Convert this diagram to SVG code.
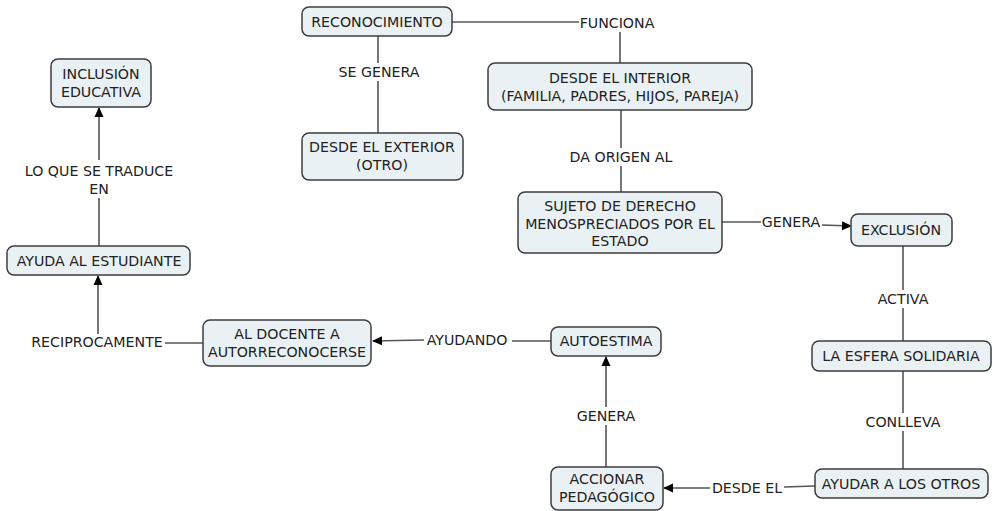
<svg xmlns="http://www.w3.org/2000/svg" width="993" height="511" viewBox="0 0 993 511">
<style>
.n rect{fill:#eaf1f4;stroke:#3d3d3d;stroke-width:1.5}
text{font-family:"DejaVu Sans",Verdana,sans-serif;font-size:14.2px;fill:#222;text-anchor:middle}
.c line{stroke:#555;stroke-width:1.6}
.a{marker-end:url(#ah)}
</style>
<defs>
<marker id="ah" markerWidth="10" markerHeight="10" refX="9" refY="5" orient="auto" markerUnits="userSpaceOnUse">
<path d="M0,0.5 L10,5 L0,9.5 Z" fill="#000"/>
</marker>
</defs>
<rect width="993" height="511" fill="#fff"/>
<g class="c">
<line x1="452" y1="22" x2="579" y2="22"/>
<line x1="620" y1="32" x2="620" y2="63"/>
<line x1="378" y1="36" x2="378" y2="63"/>
<line x1="378" y1="81" x2="378" y2="133"/>
<line x1="621" y1="110" x2="621" y2="148"/>
<line x1="621" y1="166" x2="621" y2="192"/>
<line x1="722" y1="222" x2="761" y2="222"/>
<line class="a" x1="822" y1="225" x2="851" y2="226"/>
<line x1="903" y1="246" x2="903" y2="290"/>
<line x1="903" y1="308" x2="903" y2="341"/>
<line x1="903" y1="371" x2="903" y2="413"/>
<line x1="903" y1="431" x2="903" y2="469"/>
<line x1="815" y1="486" x2="784" y2="487"/>
<line class="a" x1="710" y1="488" x2="664" y2="488"/>
<line x1="606" y1="467" x2="606" y2="425"/>
<line class="a" x1="606" y1="407" x2="606" y2="357"/>
<line x1="551" y1="341" x2="512" y2="341"/>
<line class="a" x1="424" y1="340" x2="373" y2="341"/>
<line x1="203" y1="343" x2="165" y2="343"/>
<line class="a" x1="98" y1="334" x2="98" y2="276"/>
<line x1="99" y1="246" x2="99" y2="198"/>
<line class="a" x1="99" y1="160" x2="99" y2="108"/>
</g>
<g id="reconocimiento" class="n"><rect x="302" y="7" width="150" height="29" rx="7"/><text x="377" y="27">RECONOCIMIENTO</text></g>
<g id="desde-interior" class="n"><rect x="488" y="63" width="264" height="47" rx="7"/><text x="620" y="83">DESDE EL INTERIOR</text><text x="620" y="101">(FAMILIA, PADRES, HIJOS, PAREJA)</text></g>
<g id="desde-exterior" class="n"><rect x="302" y="133" width="161" height="47" rx="7"/><text x="382" y="152">DESDE EL EXTERIOR</text><text x="382" y="170">(OTRO)</text></g>
<g id="sujeto" class="n"><rect x="518" y="192" width="204" height="61" rx="7"/><text x="620" y="211">SUJETO DE DERECHO</text><text x="620" y="229">MENOSPRECIADOS POR EL</text><text x="620" y="246">ESTADO</text></g>
<g id="exclusion" class="n"><rect x="851" y="214" width="101" height="32" rx="7"/><text x="901" y="235">EXCLUSIÓN</text></g>
<g id="esfera" class="n"><rect x="812" y="341" width="179" height="30" rx="7"/><text x="901" y="361">LA ESFERA SOLIDARIA</text></g>
<g id="ayudar-otros" class="n"><rect x="815" y="469" width="173" height="29" rx="7"/><text x="901" y="489">AYUDAR A LOS OTROS</text></g>
<g id="accionar" class="n"><rect x="551" y="467" width="112" height="43" rx="7"/><text x="607" y="484">ACCIONAR</text><text x="607" y="502">PEDAGÓGICO</text></g>
<g id="autoestima" class="n"><rect x="551" y="327" width="110" height="29" rx="7"/><text x="606" y="346">AUTOESTIMA</text></g>
<g id="al-docente" class="n"><rect x="203" y="320" width="168" height="46" rx="7"/><text x="287" y="339">AL DOCENTE A</text><text x="287" y="357">AUTORRECONOCERSE</text></g>
<g id="ayuda-estudiante" class="n"><rect x="7" y="246" width="183" height="29" rx="7"/><text x="99" y="266">AYUDA AL ESTUDIANTE</text></g>
<g id="inclusion" class="n"><rect x="51" y="59" width="100" height="48" rx="7"/><text x="101" y="79">INCLUSIÓN</text><text x="101" y="97">EDUCATIVA</text></g>
<g id="labels">
<text x="617" y="28">FUNCIONA</text>
<text x="379" y="77">SE GENERA</text>
<text x="621" y="162">DA ORIGEN AL</text>
<text x="791" y="227">GENERA</text>
<text x="903" y="304">ACTIVA</text>
<text x="903" y="427">CONLLEVA</text>
<text x="747" y="493">DESDE EL</text>
<text x="606" y="421">GENERA</text>
<text x="467" y="345">AYUDANDO</text>
<text x="97" y="347">RECIPROCAMENTE</text>
<text x="99" y="176">LO QUE SE TRADUCE</text>
<text x="99" y="194">EN</text>
</g>
</svg>
